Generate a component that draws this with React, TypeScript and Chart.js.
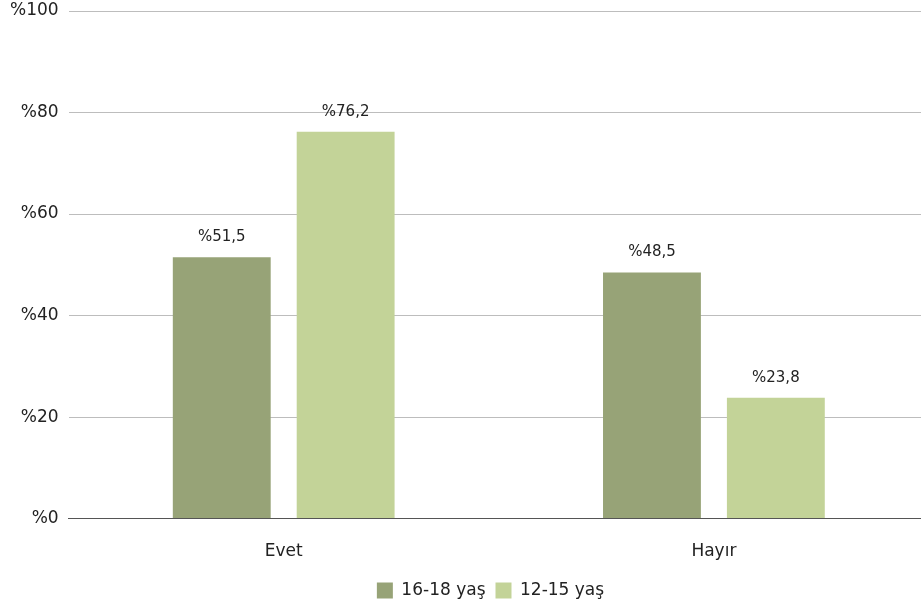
import React, { useEffect, useRef } from "react";
import { Chart, registerables } from "chart.js";

Chart.register(...registerables);

const categories = ["Evet", "Hayır"];
const seriesNames = ["16-18 yaş", "12-15 yaş"];
const series1618 = [51.5, 48.5];
const series1215 = [76.2, 23.8];
const yTicks = [0, 20, 40, 60, 80, 100];

const FONT = "'DejaVu Sans', sans-serif";

const labelPlugin = {
  id: "barLabels",
  afterLayout(chart: any) {
    if (chart.legend) {
      chart.legend.left += 26;
      chart.legend.right += 26;
    }
  },
  afterDatasetsDraw(chart: any) {
    const ctx = chart.ctx;
    ctx.save();
    ctx.font = `15px ${FONT}`;
    ctx.fillStyle = "#222";
    ctx.textAlign = "center";
    ctx.textBaseline = "middle";
    chart.data.datasets.forEach((ds: any, i: number) => {
      const meta = chart.getDatasetMeta(i);
      meta.data.forEach((bar: any, j: number) => {
        const v = ds.data[j];
        ctx.fillText("%" + String(v).replace(".", ","), bar.x, bar.y - 20);
      });
    });
    ctx.restore();
  },
};

export default function App() {
  const ref = useRef<HTMLCanvasElement>(null);
  useEffect(() => {
    const chart = new Chart(ref.current!, {
      type: "bar",
      data: {
        labels: categories,
        datasets: [
          { label: seriesNames[0], data: series1618, backgroundColor: "#97a377", barPercentage: 0.79, categoryPercentage: 0.576 },
          { label: seriesNames[1], data: series1215, backgroundColor: "#c3d398", barPercentage: 0.79, categoryPercentage: 0.576 },
        ],
      },
      options: {
        animation: false,
        responsive: false,
        maintainAspectRatio: false,
        layout: { padding: { top: 11, right: 0, left: 0, bottom: 0 } },
        plugins: {
          tooltip: { enabled: false },
          legend: {
            position: "bottom",
            labels: {
              boxWidth: 16,
              boxHeight: 16,
              color: "#222",
              font: { family: FONT, size: 17 },
              padding: 10,
            },
          },
        },
        scales: {
          x: {
            grid: { display: false },
            border: { display: true, color: "#555", width: 1 },
            ticks: { color: "#222", font: { family: FONT, size: 17 }, padding: 15 },
            afterFit: (axis: any) => {
              axis.height -= 5;
            },
          },
          y: {
            min: 0,
            max: 100,
            afterBuildTicks: (axis: any) => {
              axis.ticks = yTicks.map((v) => ({ value: v }));
            },
            afterFit: (axis: any) => {
              axis.paddingTop = 0;
            },
            grid: { color: "#bdbdbd", drawTicks: false },
            border: { display: false },
            ticks: {
              color: "#222",
              font: { family: FONT, size: 17 },
              padding: 10,
              callback: (v: any) => "%" + v,
            },
          },
        },
      },
      plugins: [labelPlugin],
    });
    return () => chart.destroy();
  }, []);
  return (
    <div style={{ position: "fixed", left: 0, top: 0, width: 921, height: 609, overflow: "hidden" }}>
      <canvas ref={ref} width={929} height={609} />
    </div>
  );
}
